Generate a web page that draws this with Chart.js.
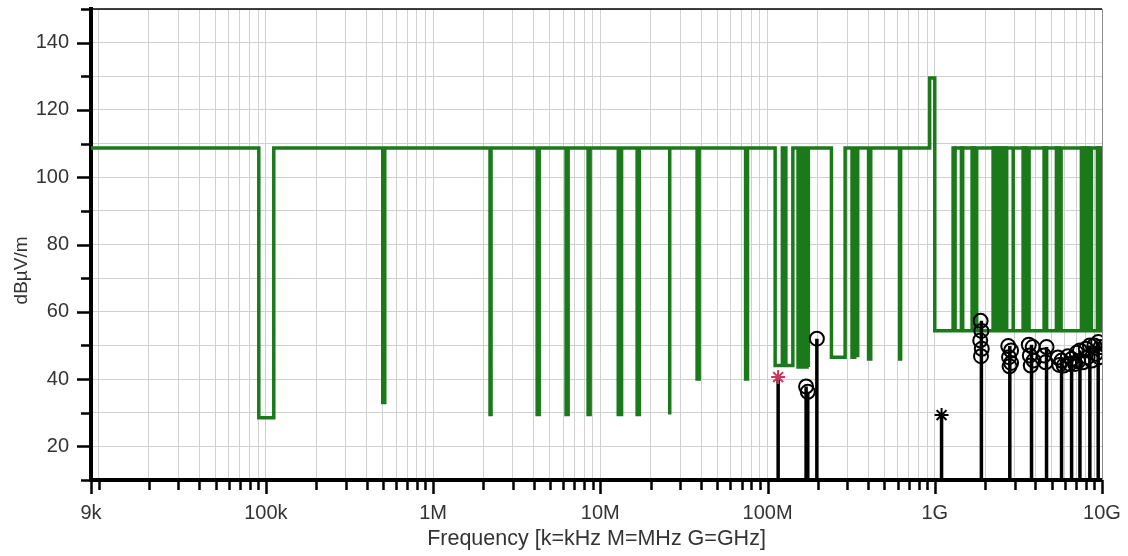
<!DOCTYPE html>
<html>
<head>
<meta charset="utf-8">
<script src="https://cdn.jsdelivr.net/npm/chart.js@4"></script>
<style>
  html, body { margin: 0; padding: 0; background: #fff; }
  #wrap { width: 1128px; height: 556px; }
</style>
</head>
<body>
<div id="wrap"><canvas id="emc"></canvas></div>
<script>
// limit line: base level per band, plus notches (bands where the limit sits at another level)
const limitBaseFreq = [9e3, 1e9];
const limitBaseLevel = [108.7, 54.4];

const notchLo = [
  90.7e3, 500e3, 2.19e6, 4.19e6, 6.24e6, 8.45e6, 12.8e6, 16.6e6, 26.0e6, 37.9e6, 73.9e6,
  111e6, 128.7e6, 152.2e6, 165.3e6, 175.4e6, 241e6, 320e6, 346e6, 402e6, 617e6, 0.932e9,
  1.287e9, 1.443e9, 1.672e9, 1.781e9, 2.232e9, 2.418e9, 2.626e9, 2.944e9, 3.375e9, 3.664e9,
  4.505e9, 5.338e9, 5.694e9, 7.531e9, 8.179e9, 8.642e9, 9.387e9, 9.89e9
];
const notchHi = [
  111.5e3, 514e3, 2.22e6, 4.31e6, 6.42e6, 8.69e6, 13.4e6, 17.1e6, 26.0e6, 39.0e6, 75.9e6,
  122.6e6, 141.7e6, 158.6e6, 172.3e6, 175.4e6, 291e6, 332e6, 346e6, 414e6, 625e6, 1e9,
  1.323e9, 1.469e9, 1.725e9, 1.781e9, 2.320e9, 2.520e9, 2.692e9, 2.944e9, 3.507e9, 3.664e9,
  4.669e9, 5.546e9, 5.694e9, 7.848e9, 8.465e9, 8.642e9, 9.716e9, 10e9
];
const notchLevel = [
  28.5, 33, 29.5, 29.5, 29.5, 29.5, 29.5, 29.5, 29.5, 40, 40,
  44, 44, 43.6, 43.6, 43.6, 46.5, 46.5, 46.5, 46, 46, 129.5,
  108.7, 108.7, 108.7, 108.7, 108.7, 108.7, 108.7, 108.7, 108.7, 108.7,
  108.7, 108.7, 108.7, 108.7, 108.7, 108.7, 108.7, 108.7
];

// second limit segment above 1 GHz (upper bar of the comb)
const upperFreq = [1.287e9, 10e9];
const upperLevel = [108.7, 108.7];

// measured peaks (vertical lines from the floor)
const peakFreq = [115.7e6, 170e6, 174e6, 197.2e6, 1.098e9, 1.90e9, 2.81e9, 3.79e9, 4.66e9, 5.73e9, 6.58e9, 7.38e9, 8.46e9, 9.49e9];
const peakLevel = [40.6, 37.8, 36.2, 52, 29.3, 57.3, 49.8, 50.2, 49.5, 46.4, 47, 48.5, 50, 51];

// circle markers
const markFreq = [
  170e6, 174e6, 197.2e6,
  1.88e9, 1.90e9, 1.87e9, 1.91e9, 1.89e9,
  2.75e9, 2.86e9, 2.78e9, 2.86e9, 2.80e9,
  3.65e9, 3.85e9, 3.7e9, 3.9e9, 3.75e9,
  4.66e9, 4.5e9, 4.6e9,
  5.45e9, 5.73e9, 5.55e9, 5.9e9,
  6.25e9, 6.58e9, 6.4e9, 6.9e9,
  7.05e9, 7.38e9, 7.2e9, 7.7e9,
  8.0e9, 8.46e9, 8.2e9, 8.7e9,
  9.0e9, 9.49e9, 9.2e9, 9.8e9, 9.6e9
];
const markLevel = [
  37.8, 36.2, 52,
  57.3, 54.3, 51.5, 49, 46.8,
  49.8, 48.5, 46.5, 44.8, 43.8,
  50.2, 49.5, 47, 45.5, 44,
  49.5, 47, 45,
  46.4, 45.5, 44.2, 44,
  46.8, 46, 44.5, 44.5,
  47.8, 48.5, 45.3, 45,
  49, 50, 46.5, 45.5,
  50, 51, 47.5, 49.5, 46.5
];

// asterisk markers
const starFreq = [115.7e6, 1.098e9];
const starLevel = [40.6, 29.3];
const starColor = ['#c8385a', '#000000'];

const xLabelValues = [9e3, 1e5, 1e6, 1e7, 1e8, 1e9, 1e10];
const xTickLabels = ['9k', '100k', '1M', '10M', '100M', '1G', '10G'];
const yMin = 10, yMax = 150, yStep = 10, yLabelStep = 20;
const yTitle = 'dBµV/m';

// gridlines at 1..9 of every decade
const xTickValues = [9e3];
for (let e = 4; e < 10; e++) {
  for (let m = 1; m <= 9; m++) xTickValues.push(m * Math.pow(10, e));
}
xTickValues.push(1e10);

const baseAt = (f) => {
  let lvl = limitBaseLevel[0];
  limitBaseFreq.forEach((bf, i) => { if (f >= bf) lvl = limitBaseLevel[i]; });
  return lvl;
};

const limitPts = [{ x: 9e3, y: baseAt(9e3) }];
notchLo.forEach((lo, i) => {
  const hi = notchHi[i];
  limitPts.push(
    { x: lo, y: baseAt(lo) },
    { x: lo, y: notchLevel[i] },
    { x: hi, y: notchLevel[i] },
    { x: hi, y: baseAt(hi) }
  );
});
limitPts.push({ x: 1e10, y: baseAt(1e10) });

const upperPts = upperFreq.map((f, i) => ({ x: f, y: upperLevel[i] }));

const peakPts = [];
peakFreq.forEach((f, i) => {
  peakPts.push({ x: f, y: yMin }, { x: f, y: peakLevel[i] }, { x: f, y: null });
});

const markPts = markFreq.map((f, i) => ({ x: f, y: markLevel[i] }));
const starPts = starFreq.map((f, i) => ({ x: f, y: starLevel[i] }));

const font = 'Liberation Sans, Arial, sans-serif';

// tick marks (long at labelled ticks), the top/right frame and the y title
const axisMarks = {
  id: 'axisMarks',
  afterDraw(chart) {
    const { ctx, chartArea: a, scales: { x, y } } = chart;
    ctx.save();
    ctx.strokeStyle = '#000';
    ctx.lineWidth = 2.5;
    ctx.beginPath();
    x.ticks.forEach(t => {
      const px = Math.round(x.getPixelForValue(t.value)) + 0.5;
      const len = xLabelValues.includes(t.value) ? 14 : 10;
      ctx.moveTo(px, a.bottom);
      ctx.lineTo(px, a.bottom + len);
    });
    y.ticks.forEach(t => {
      const py = Math.round(y.getPixelForValue(t.value)) + 0.5;
      const len = t.value % yLabelStep === 0 ? 14 : 10;
      ctx.moveTo(a.left, py);
      ctx.lineTo(a.left - len, py);
    });
    ctx.stroke();

    ctx.lineWidth = 1.5;
    ctx.beginPath();
    ctx.moveTo(a.left, a.top);
    ctx.lineTo(a.right, a.top);
    ctx.stroke();
    ctx.strokeStyle = '#8c8c8c';
    ctx.lineWidth = 1;
    ctx.beginPath();
    ctx.moveTo(a.right + 0.5, a.top);
    ctx.lineTo(a.right + 0.5, a.bottom);
    ctx.stroke();

    // y title sits a little below the middle of the plot, as in the original
    ctx.translate(22, a.top + (a.bottom - a.top) * 0.555);
    ctx.rotate(-Math.PI / 2);
    ctx.fillStyle = '#333';
    ctx.font = '19px ' + font;
    ctx.textAlign = 'center';
    ctx.textBaseline = 'middle';
    ctx.fillText(yTitle, 0, 0);
    ctx.restore();
  }
};

new Chart(document.getElementById('emc'), {
  type: 'line',
  data: {
    datasets: [
      {
        label: 'stars', data: starPts, showLine: false, order: 0,
        pointStyle: 'star', pointRadius: 7, pointBorderWidth: 2,
        pointBorderColor: starColor, pointBackgroundColor: starColor
      },
      {
        label: 'markers', data: markPts, showLine: false, order: 1,
        pointStyle: 'circle', pointRadius: 7, pointBorderWidth: 2,
        pointBorderColor: '#000', pointBackgroundColor: 'rgba(0,0,0,0)'
      },
      {
        label: 'peaks', data: peakPts, order: 2,
        borderColor: '#000', borderWidth: 3.5, pointRadius: 0, spanGaps: false
      },
      {
        label: 'limit', data: limitPts, order: 3,
        borderColor: '#1a7a1a', borderWidth: 3.5, pointRadius: 0, tension: 0
      },
      {
        label: 'limit upper', data: upperPts, order: 3,
        borderColor: '#1a7a1a', borderWidth: 3.5, pointRadius: 0, tension: 0
      }
    ]
  },
  options: {
    animation: false,
    responsive: true,
    maintainAspectRatio: false,
    events: [],
    layout: { padding: { top: 7, right: 26, left: 0, bottom: 0 } },
    plugins: { legend: { display: false }, tooltip: { enabled: false } },
    scales: {
      x: {
        type: 'logarithmic',
        min: 9e3,
        max: 1e10,
        afterBuildTicks: (s) => { s.ticks = xTickValues.map(v => ({ value: v })); },
        afterFit: (s) => { s.height = 76; s.paddingLeft = 0; s.paddingRight = 0; },
        ticks: {
          autoSkip: false, maxRotation: 0, minRotation: 0, padding: 9,
          color: '#333', font: { family: font, size: 20 },
          callback: (v) => {
            const i = xLabelValues.indexOf(v);
            return i >= 0 ? xTickLabels[i] : '';
          }
        },
        grid: { color: '#d0d0d0', lineWidth: 1, tickLength: 12, tickColor: 'rgba(0,0,0,0)' },
        border: { color: '#000', width: 4 },
        title: {
          display: true, text: 'Frequency [k=kHz M=MHz G=GHz]', color: '#333',
          font: { family: font, size: 21.5 }, padding: { top: 0, bottom: 4 }
        }
      },
      y: {
        min: yMin,
        max: yMax,
        afterFit: (s) => { s.width = 91; s.paddingTop = 0; s.paddingBottom = 0; },
        ticks: {
          stepSize: yStep, autoSkip: false, padding: 10,
          color: '#333', font: { family: font, size: 20 },
          callback: (v) => (v % yLabelStep === 0 ? String(v) : '')
        },
        grid: { color: '#d0d0d0', lineWidth: 1, tickLength: 12, tickColor: 'rgba(0,0,0,0)' },
        border: { color: '#000', width: 4 }
      }
    }
  },
  plugins: [axisMarks]
});
</script>
</body>
</html>
